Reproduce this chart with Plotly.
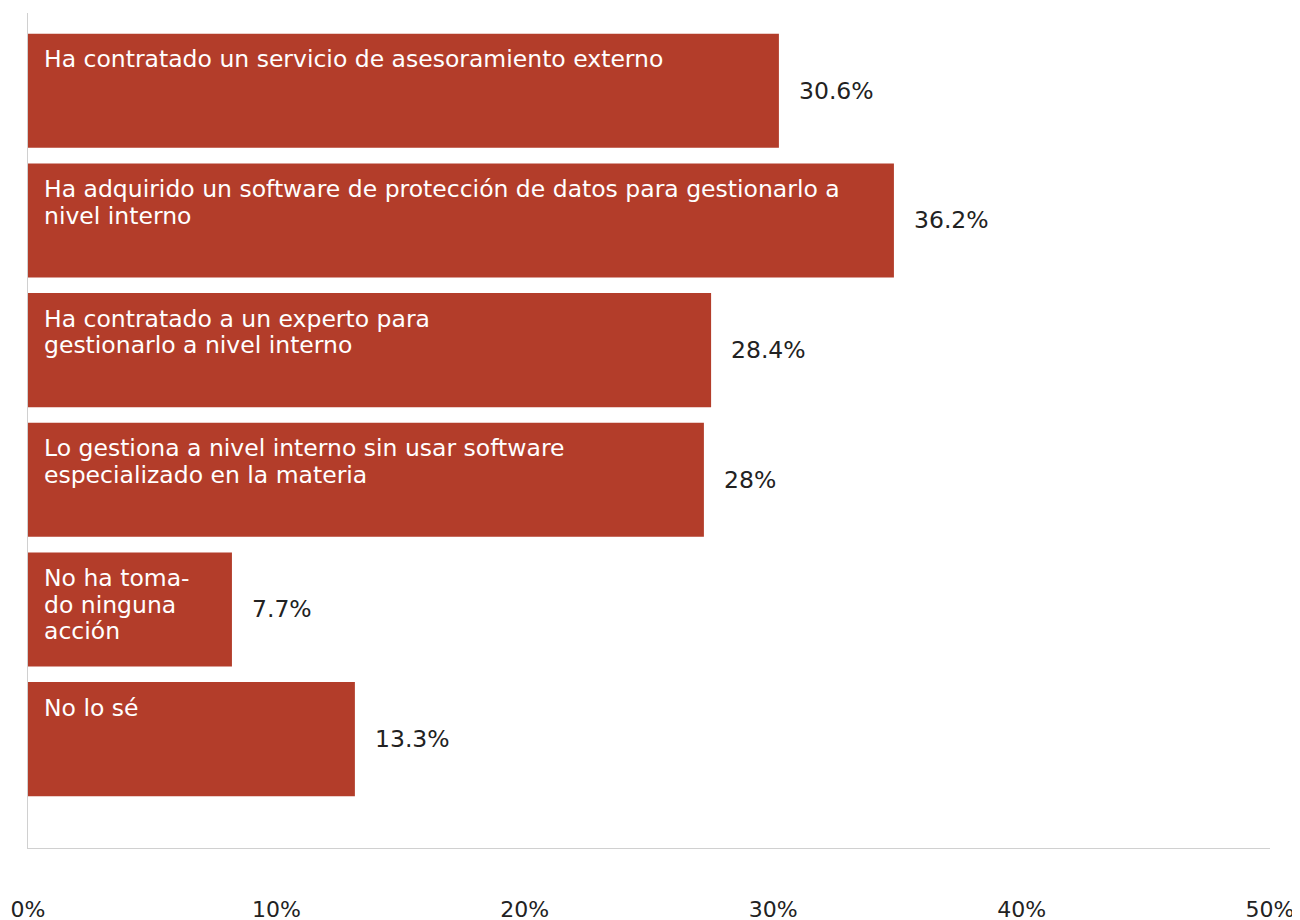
import plotly.graph_objects as go

# Data
categories = [
    "Ha contratado un servicio de asesoramiento externo",
    "Ha adquirido un software de protección de datos para gestionarlo a<br>nivel interno",
    "Ha contratado a un experto para<br>gestionarlo a nivel interno",
    "Lo gestiona a nivel interno sin usar software<br>especializado en la materia",
    "No ha toma-<br>do ninguna<br>acción",
    "No lo sé",
]
bar_lengths = [30.23, 34.86, 27.50, 27.21, 8.21, 13.16]   # as drawn in the picture
value_labels = ["30.6%", "36.2%", "28.4%", "28%", "7.7%", "13.3%"]
tick_values = [0, 10, 20, 30, 40, 50]
tick_labels = ["0%", "10%", "20%", "30%", "40%", "50%"]

positions = list(range(len(categories)))
BAR_COLOR = "#B33D2A"
FONT = "DejaVu Sans"
FS = 23.5
TICK_FS = 22
BAR_W = 0.88
LINE_H = 26.7

fig = go.Figure(
    go.Bar(
        x=bar_lengths,
        y=positions,
        orientation="h",
        width=BAR_W,
        marker=dict(color=BAR_COLOR, line=dict(width=0)),
        hoverinfo="skip",
    )
)

annotations = []
for pos, cat, val, lab in zip(positions, categories, bar_lengths, value_labels):
    for j, line in enumerate(cat.split("<br>")):
        annotations.append(dict(
            x=0, y=pos - BAR_W / 2, xref="x", yref="y",
            text=line, showarrow=False, xanchor="left", yanchor="middle", align="left",
            xshift=15, yshift=-(25.5 + LINE_H * j), borderpad=0,
            font=dict(family=FONT, size=FS, color="white"),
        ))
    annotations.append(dict(
        x=val, y=pos, xref="x", yref="y",
        text=lab, showarrow=False, xanchor="left", yanchor="middle",
        xshift=19, borderpad=0,
        font=dict(family=FONT, size=FS, color="#222222"),
    ))

# the page adds an 8px body margin, so the figure is 8px smaller and shifted
fig.update_layout(
    width=1292, height=912,
    margin=dict(l=20, r=30, t=5, b=72),
    paper_bgcolor="white", plot_bgcolor="white",
    showlegend=False,
    font=dict(family=FONT, size=FS, color="#222222"),
    xaxis=dict(
        range=[0, 50], tickvals=tick_values, ticktext=tick_labels,
        showgrid=False, zeroline=False, showline=True, linecolor="#d0d0d0", linewidth=1,
        ticks="", ticklabelstandoff=42, fixedrange=True, automargin=False,
        tickfont=dict(family=FONT, size=TICK_FS, color="#222222"),
    ),
    yaxis=dict(
        range=[5.84, -0.6], showticklabels=False, showgrid=False, zeroline=False,
        showline=True, linecolor="#d0d0d0", linewidth=1, ticks="", fixedrange=True,
        automargin=False,
    ),
    annotations=annotations,
)

fig.write_html("out.html")
